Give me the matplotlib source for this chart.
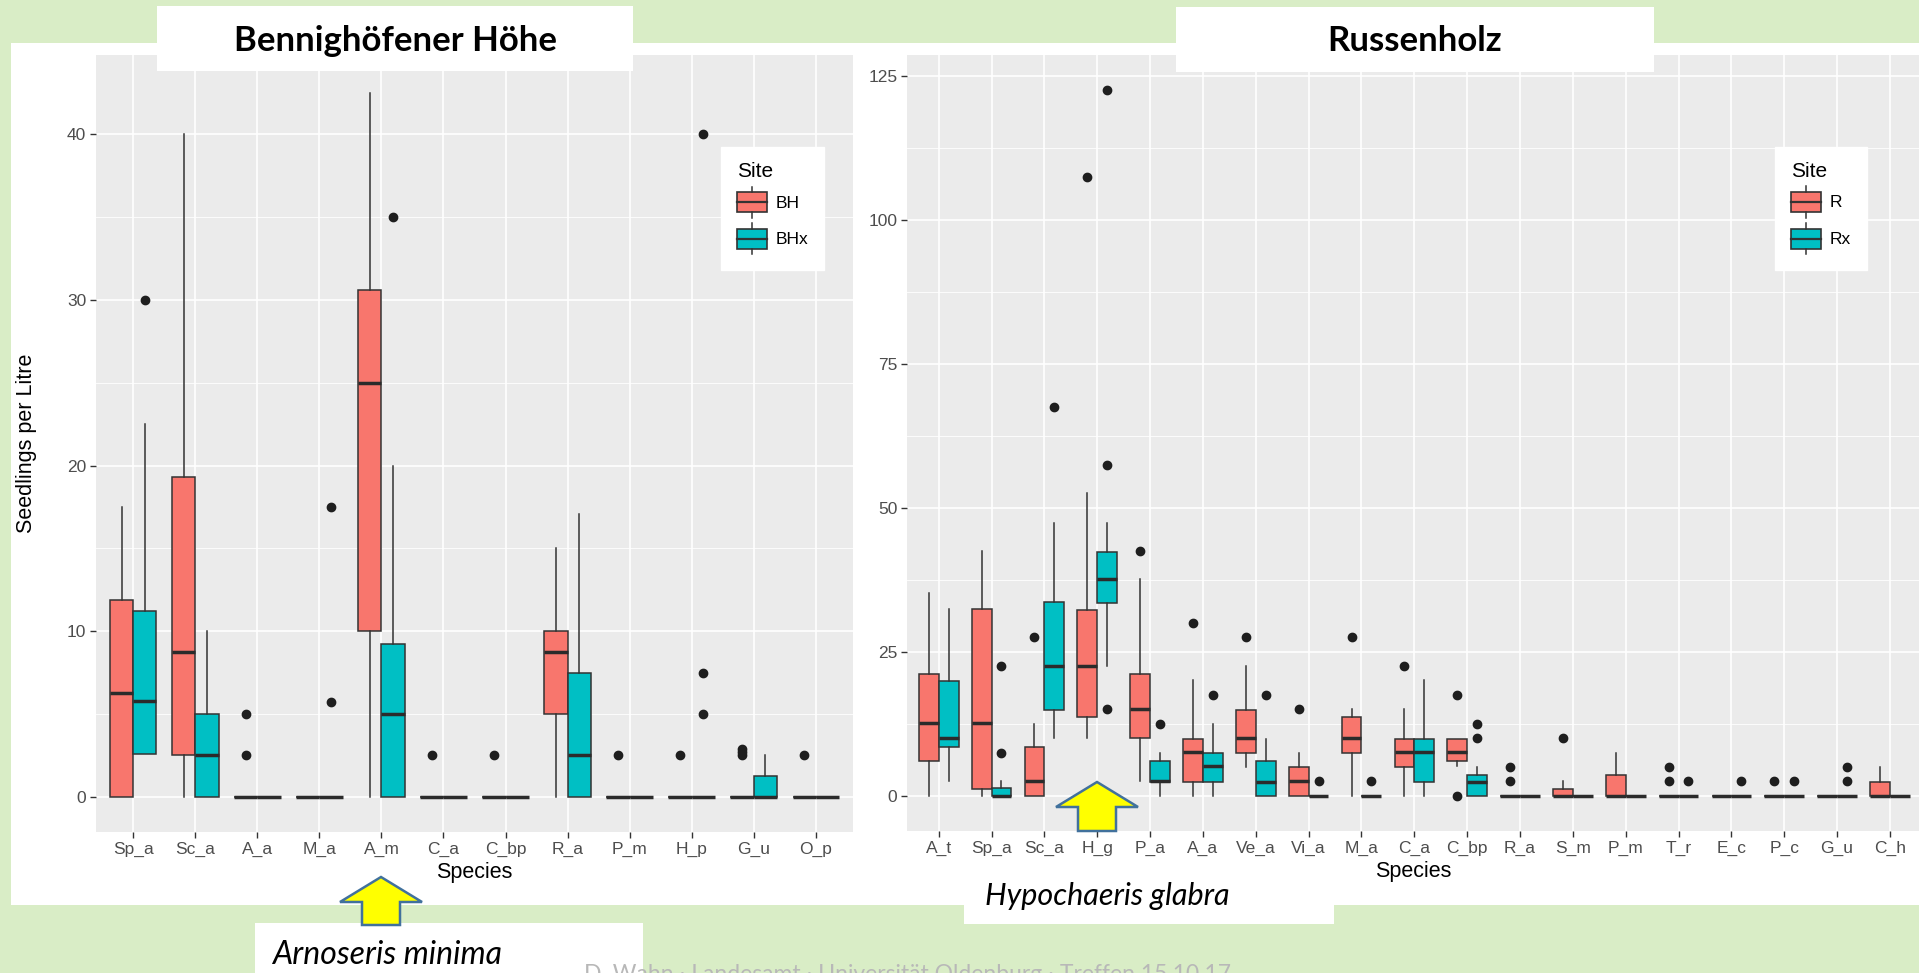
import matplotlib
matplotlib.use('Agg')
import matplotlib.pyplot as plt
from matplotlib.patches import Rectangle, Polygon
from matplotlib.lines import Line2D
from matplotlib.legend_handler import HandlerBase

# --- Bennighöfener Höhe (left) ---
species_bh = ['Sp_a', 'Sc_a', 'A_a', 'M_a', 'A_m', 'C_a', 'C_bp', 'R_a', 'P_m', 'H_p', 'G_u', 'O_p']
bh_low = [0, 0, 0, 0, 0, 0, 0, 0, 0, 0, 0, 0]
bh_q1 = [0, 2.5, 0, 0, 10, 0, 0, 5, 0, 0, 0, 0]
bh_med = [6.25, 8.75, 0, 0, 25, 0, 0, 8.75, 0, 0, 0, 0]
bh_q3 = [11.9, 19.3, 0, 0, 30.6, 0, 0, 10, 0, 0, 0, 0]
bh_high = [17.5, 40, 0, 0, 42.5, 0, 0, 15, 0, 0, 0, 0]
bh_out = [[], [], [2.5, 5], [], [], [2.5], [2.5], [], [2.5], [2.5], [2.5, 2.7, 2.9], [2.5]]

bhx_low = [2.6, 0, 0, 0, 0, 0, 0, 0, 0, 0, 0, 0]
bhx_q1 = [2.6, 0, 0, 0, 0, 0, 0, 0, 0, 0, 0, 0]
bhx_med = [5.8, 2.5, 0, 0, 5, 0, 0, 2.5, 0, 0, 0, 0]
bhx_q3 = [11.2, 5, 0, 0, 9.25, 0, 0, 7.5, 0, 0, 1.25, 0]
bhx_high = [22.5, 10, 0, 0, 20, 0, 0, 17.1, 0, 0, 2.5, 0]
bhx_out = [[30], [], [], [5.75, 17.5], [35], [], [], [], [], [5, 7.5, 40], [], []]

# --- Russenholz (right) ---
species_r = ['A_t', 'Sp_a', 'Sc_a', 'H_g', 'P_a', 'A_a', 'Ve_a', 'Vi_a', 'M_a', 'C_a',
             'C_bp', 'R_a', 'S_m', 'P_m', 'T_r', 'E_c', 'P_c', 'G_u', 'C_h']
r_low = [0, 0, 0, 10, 2.5, 0, 5, 0, 0, 0, 5.2, 0, 0, 0, 0, 0, 0, 0, 0]
r_q1 = [6.1, 1.25, 0, 13.7, 10, 2.4, 7.5, 0, 7.5, 5, 6.1, 0, 0, 0, 0, 0, 0, 0, 0]
r_med = [12.7, 12.6, 2.5, 22.6, 15.1, 7.6, 10.1, 2.5, 10.1, 7.6, 7.6, 0, 0, 0, 0, 0, 0, 0, 0]
r_q3 = [21.2, 32.5, 8.5, 32.3, 21.2, 9.9, 14.8, 5, 13.7, 9.9, 9.9, 0, 1.25, 3.6, 0, 0, 0, 0, 2.4]
r_high = [35.2, 42.5, 12.5, 52.6, 37.6, 20.1, 22.6, 7.5, 15, 15, 9.9, 0, 2.5, 7.5, 0, 0, 0, 0, 5]
r_out = [[], [], [27.5], [107.5], [42.5], [30], [27.5], [15], [27.5], [22.5], [0, 17.5], [2.5, 5],
         [10], [], [2.5, 5], [], [2.5], [], []]

rx_low = [2.5, 0, 10.1, 22.6, 0, 0, 0, 0, 0, 0, 0, 0, 0, 0, 0, 0, 0, 0, 0]
rx_q1 = [8.5, 0, 14.8, 33.5, 2.4, 2.4, 0, 0, 0, 2.4, 0, 0, 0, 0, 0, 0, 0, 0, 0]
rx_med = [10.1, 0, 22.6, 37.6, 2.5, 5.2, 2.4, 0, 0, 7.6, 2.4, 0, 0, 0, 0, 0, 0, 0, 0]
rx_q3 = [20, 1.4, 33.7, 42.4, 6.1, 7.5, 6.1, 0, 0, 9.9, 3.6, 0, 0, 0, 0, 0, 0, 0, 0]
rx_high = [32.5, 2.5, 47.4, 47.4, 7.5, 12.5, 9.9, 0, 0, 20.1, 5, 0, 0, 0, 0, 0, 0, 0, 0]
rx_out = [[], [7.5, 22.5], [67.5], [15, 57.5, 122.5], [12.5], [17.5], [17.5], [2.5], [2.5], [],
          [10, 12.5], [], [], [], [2.5], [2.5], [2.5], [2.5, 5], []]

RED = '#F8766D'
TEAL = '#00BFC4'
BG_GREEN = '#d9edc6'
FONT = 'Liberation Sans'


def make_stats(low, q1, med, q3, high, out):
    return [dict(whislo=a, q1=b, med=c, q3=d, whishi=e, fliers=f)
            for a, b, c, d, e, f in zip(low, q1, med, q3, high, out)]


class BoxKey(HandlerBase):
    # little boxplot glyph like the ggplot legend key
    def create_artists(self, legend, orig, xd, yd, w, h, fs, trans):
        fc = orig.get_facecolor()
        x0 = -xd
        y0 = -yd + 0.18 * h
        bh = 0.64 * h
        box = Rectangle((x0, y0), w, bh, facecolor=fc, edgecolor='#333333', lw=1.2, transform=trans)
        med = Line2D([x0, x0 + w], [y0 + bh / 2] * 2, color='#333333', lw=1.6, transform=trans)
        xm = x0 + w / 2
        w1 = Line2D([xm, xm], [-yd, y0], color='#333333', lw=1.1, transform=trans)
        w2 = Line2D([xm, xm], [y0 + bh, -yd + h], color='#333333', lw=1.1, transform=trans)
        return [box, med, w1, w2]


def draw_panel(ax, species, s1, s2, labels, ylim, yticks, yminor, xright):
    n = len(species)
    pos = list(range(1, n + 1))
    ax.set_facecolor('#EBEBEB')
    for sp in ax.spines.values():
        sp.set_visible(False)
    ax.set_axisbelow(True)
    for y in yticks:
        ax.axhline(y, color='white', lw=1.2, zorder=0)
    for y in yminor:
        ax.axhline(y, color='white', lw=0.6, zorder=0)
    for x in pos:
        ax.axvline(x, color='white', lw=1.2, zorder=0)
    handles = []
    for stats, off, col, lab in [(s1, -0.1875, RED, labels[0]), (s2, 0.1875, TEAL, labels[1])]:
        ax.bxp(stats, positions=[p + off for p in pos], widths=0.375, patch_artist=True,
               showcaps=False, manage_ticks=False,
               boxprops=dict(facecolor=col, edgecolor='#333333', linewidth=1.1),
               medianprops=dict(color='#2b2b2b', linewidth=2.5),
               whiskerprops=dict(color='#333333', linewidth=1.1),
               flierprops=dict(marker='o', markerfacecolor='#1e1e1e', markeredgecolor='#1e1e1e',
                               markersize=6))
        handles.append(Rectangle((0, 0), 1, 1, facecolor=col, label=lab))
    ax.set_xlim(0.4, xright)
    ax.set_ylim(*ylim)
    ax.set_xticks(pos)
    ax.set_xticklabels(species)
    ax.set_yticks(yticks)
    ax.set_yticklabels([str(t) for t in yticks])
    ax.tick_params(colors='#333333', labelcolor='#4d4d4d', labelsize=12.5, length=4, width=1, pad=3)
    ax.set_xlabel('Species', fontsize=15.5, family=FONT, labelpad=4)
    for t in ax.get_xticklabels() + ax.get_yticklabels():
        t.set_family(FONT)
    return handles


fig = plt.figure(figsize=(19.19, 9.73), dpi=100)
fig.patch.set_facecolor(BG_GREEN)

# background layer in pixel coordinates
bg = fig.add_axes([0, 0, 1, 1], zorder=-2)
bg.set_xlim(0, 1919)
bg.set_ylim(973, 0)
bg.axis('off')
bg.add_patch(Rectangle((11, 43), 1919 - 11, 905 - 43, facecolor='white', edgecolor='none'))

W, H = 1919.0, 973.0
ax1 = fig.add_axes([96 / W, (H - 832) / H, 757 / W, 777 / H])
ax2 = fig.add_axes([907 / W, (H - 831) / H, (W - 907) / W, 776 / H])

h1 = draw_panel(ax1, species_bh,
                make_stats(bh_low, bh_q1, bh_med, bh_q3, bh_high, bh_out),
                make_stats(bhx_low, bhx_q1, bhx_med, bhx_q3, bhx_high, bhx_out),
                ['BH', 'BHx'], (-2.125, 44.8), [0, 10, 20, 30, 40], [5, 15, 25, 35], 12.6)
h2 = draw_panel(ax2, species_r,
                make_stats(r_low, r_q1, r_med, r_q3, r_high, r_out),
                make_stats(rx_low, rx_q1, rx_med, rx_q3, rx_high, rx_out),
                ['R', 'Rx'], (-6.125, 128.6), [0, 25, 50, 75, 100, 125],
                [12.5, 37.5, 62.5, 87.5, 112.5], 19.55)
ax1.set_ylabel('Seedlings per Litre', fontsize=15.5, family=FONT)
ax1.yaxis.set_label_coords(-59 / 757, 0.5)

for ax, hs, anchor in [(ax1, h1, (0.826, 0.882)), (ax2, h2, (0.858, 0.882))]:
    leg = ax.legend(handles=hs, title='Site', loc='upper left', bbox_to_anchor=anchor,
                    handler_map={Rectangle: BoxKey()}, frameon=True, fancybox=False,
                    edgecolor='white', facecolor='white', framealpha=1,
                    prop={'family': FONT, 'size': 12.5}, handlelength=1.75, handleheight=2.4,
                    labelspacing=0.3, handletextpad=0.5, borderpad=0.9, borderaxespad=0)
    leg.get_title().set_fontsize(15)
    leg.get_title().set_family(FONT)
    leg._legend_box.align = 'left'

# overlay layer: title boxes, arrows, species notes
fg = fig.add_axes([0, 0, 1, 1], zorder=10)
fg.set_xlim(0, 1919)
fg.set_ylim(973, 0)
fg.axis('off')
fg.patch.set_alpha(0)

fg.add_patch(Rectangle((157, 6), 476, 65, facecolor='white', edgecolor='none'))
fg.text(396, 41, 'Bennighöfener Höhe', ha='center', va='center', fontsize=25,
        fontweight='bold', family='Lato')
fg.add_patch(Rectangle((1176, 7), 478, 65, facecolor='white', edgecolor='none'))
fg.text(1415, 41, 'Russenholz', ha='center', va='center', fontsize=25,
        fontweight='bold', family='Lato')

fg.add_patch(Rectangle((964, 860), 370, 64, facecolor='white', edgecolor='none'))
fg.text(985, 896, 'Hypochaeris glabra', ha='left', va='center', fontsize=22,
        style='italic', family='Lato')
fg.add_patch(Rectangle((255, 923), 388, 60, facecolor='white', edgecolor='none'))
fg.text(272, 955, 'Arnoseris minima', ha='left', va='center', fontsize=23,
        style='italic', family='Lato')


def up_arrow(xc, tip, base, bottom, half_head, half_shaft):
    pts = [(xc, tip), (xc + half_head, base), (xc + half_shaft, base), (xc + half_shaft, bottom),
           (xc - half_shaft, bottom), (xc - half_shaft, base), (xc - half_head, base)]
    fg.add_patch(Polygon(pts, closed=True, facecolor='#FFFF00', edgecolor='#41719C', lw=1.8))


up_arrow(381, 877, 902, 925, 41, 19)
up_arrow(1097, 782, 807, 831, 41, 19)

fg.text(908, 964, 'D. Wahn · Landesamt · Universität Oldenburg · Treffen 15.10.17',
        ha='center', va='top', fontsize=16.5, color='#b8b8b8', family='Lato')

plt.savefig('out.png', dpi=100, facecolor=fig.get_facecolor())
